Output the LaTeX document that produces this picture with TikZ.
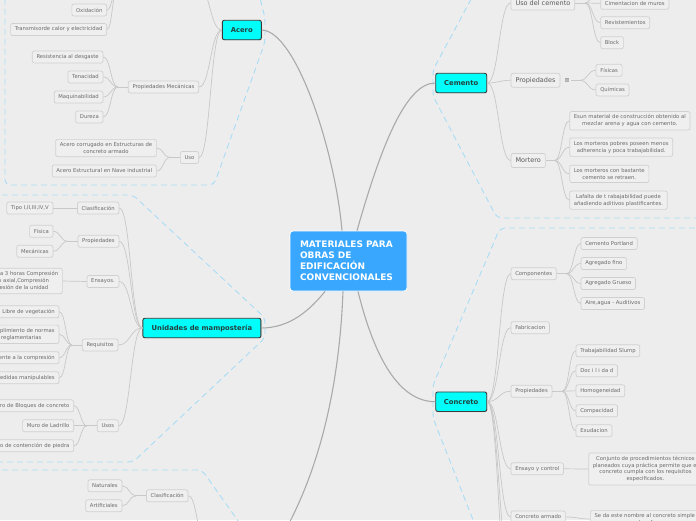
\documentclass[tikz,border=0pt]{standalone}
\usepackage{fontspec}
\setmainfont{DejaVu Sans}
\usetikzlibrary{calc,shadows}

\definecolor{pagegray}{HTML}{EDEDED}
\definecolor{hubblue}{HTML}{3AA7FF}
\definecolor{topiccyan}{HTML}{00FFFA}
\definecolor{topicline}{HTML}{3A3A3A}
\definecolor{topictext}{HTML}{23403F}
\definecolor{leaffill}{HTML}{EFEFEF}
\definecolor{leafline}{HTML}{D0D0D0}
\definecolor{leaftext}{HTML}{6A6A6A}
\definecolor{midtext}{HTML}{5A5A5A}
\definecolor{trunkgray}{HTML}{AAAAAA}
\definecolor{twiggray}{HTML}{C8C8C8}
\definecolor{fenceblue}{HTML}{A9DCF5}

\newcommand{\leaffont}{\fontsize{5.3}{6.8}\selectfont}
\newcommand{\midfont}{\fontsize{6.5}{8}\selectfont}
\newcommand{\topicfont}{\fontsize{6.8}{8}\selectfont\bfseries}
\newcommand{\hubfont}{\fontsize{9}{11}\selectfont\bfseries}

\begin{document}
\begin{tikzpicture}[
  x=1pt, y=-1pt,
  hub/.style={draw=white, line width=0.8pt, fill=hubblue, rounded corners=3pt,
    text=white, font=\hubfont, align=left, text width=97pt, inner xsep=10pt,
    minimum width=117pt, minimum height=60pt},
  topic/.style={draw=topicline, line width=0.9pt, fill=topiccyan, rounded corners=2pt,
    text=topictext, font=\topicfont, minimum height=19.5pt, inner xsep=4pt,
    drop shadow={shadow xshift=0.7pt, shadow yshift=-0.7pt, opacity=0.3}},
  leaf/.style={draw=leafline, line width=0.7pt, fill=leaffill, rounded corners=2pt,
    text=leaftext, font=\leaffont, align=center, minimum height=12pt,
    inner xsep=4.2pt, inner ysep=3.2pt},
  midleaf/.style={leaf, font=\midfont, text=midtext, minimum height=14pt, inner xsep=4.5pt},
  trunk/.style={draw=trunkgray, line width=1.1pt},
  twig/.style={draw=twiggray, line width=0.7pt},
  fence/.style={draw=fenceblue, line width=0.9pt, dash pattern=on 6pt off 4pt,
    rounded corners=5pt},
  elbow/.style={to path={let \p1=(\tikztostart), \p2=(\tikztotarget) in
    .. controls ({(\x1+\x2)/2},\y1) and ({(\x1+\x2)/2},\y2) .. (\tikztotarget)}},
]
  \useasboundingbox (0,0) rectangle (696,520);
  \clip (0,0) rectangle (696,520);
  \fill[pagegray] (0,0) rectangle (696,520);

  % boundaries
  \draw[fence] (258,-10) -- (265,18) -- (265,42) -- (214,185) -- (5,185) -- (5,-10);
  \draw[fence] (-8,195) -- (133,195) -- (265,318) -- (265,338) -- (133,462) -- (-8,462);
  \draw[fence] (-8,470) -- (202,470) -- (246,532);
  \draw[fence] (476,-10) -- (433,70) -- (433,96) -- (497,218) -- (705,218);
  \draw[fence] (705,228) -- (500,228) -- (433,385) -- (433,418) -- (477,530);

  % centre and main topics
  \node[hub] (hub) at (348.5,261) {MATERIALES PARA\\OBRAS DE\\EDIFICACIÓN\\CONVENCIONALES};
  \node[topic, minimum width=39pt] (acero) at (241.8,30) {Acero};
  \node[topic, minimum width=118pt] (unid) at (201.9,328) {Unidades de mampostería};
  \node[topic, minimum width=51pt] (cemento) at (461.2,83) {Cemento};
  \node[topic, minimum width=51pt] (concreto) at (461.2,401.7) {Concreto};
  \coordinate (bottopic) at (275,548);
  \coordinate (botwest) at (206,542);

  \draw[trunk] (acero.east) .. controls (296,31) and (335,150) .. ([xshift=-6.5pt]hub.north);
  \draw[trunk] (cemento.west) .. controls (405,83) and (380,150) .. ([xshift=8.5pt]hub.north);
  \draw[trunk] (unid.east) .. controls (290,328) and (310,310) .. ([xshift=-23.5pt]hub.south);
  \draw[trunk] ([xshift=-5.5pt]hub.south) .. controls (338,420) and (305,500) .. (bottopic);
  \draw[trunk] ([xshift=9.5pt]hub.south) .. controls (375,360) and (400,401.7) .. (concreto.west);

  % Acero
  \coordinate (fiswest) at (126,-14);
  \coordinate (fiseast) at (198,-14);
  \node[leaf, anchor=east] (oxid) at (107,10) {Oxidación};
  \node[leaf, anchor=east] (calor) at (107,29.5) {Transmisorde calor y electricidad};
  \node[leaf, anchor=east] (mecan) at (199,87) {Propiedades Mecánicas};
  \node[leaf, anchor=east] (desgaste) at (103.3,57) {Resistencia al desgaste};
  \node[leaf, anchor=east] (tenac) at (103.3,77) {Tenacidad};
  \node[leaf, anchor=east] (maquin) at (103.3,97) {Maquinabilidad};
  \node[leaf, anchor=east] (dureza) at (103.3,117) {Dureza};
  \node[leaf, anchor=east] (usoacero) at (199,157.5) {Uso};
  \node[leaf, anchor=east] (corrug) at (156.7,148) {Acero corrugado en Estructuras de\\concreto armado};
  \node[leaf, anchor=east] (estruct) at (156.7,171) {Acero Estructural en Nave industrial};

  \foreach \c in {fiseast,mecan.east,usoacero.east}
    \draw[twig] (acero.west) to[elbow] (\c);
  \draw[twig] (fiswest) -- ++(-8,0) coordinate (fisjoin);
  \foreach \c in {oxid,calor}
    \draw[twig] (fisjoin) to[elbow] (\c.east);
  \draw[twig] (mecan.west) -- ++(-10,0) coordinate (mecanjoin);
  \foreach \c in {desgaste,tenac,maquin,dureza}
    \draw[twig] (mecanjoin) to[elbow] (\c.east);
  \draw[twig] (usoacero.west) -- ++(-10,0) coordinate (usoajoin);
  \foreach \c in {corrug,estruct}
    \draw[twig] (usoajoin) to[elbow] (\c.east);

  % Unidades de mamposteria
  \node[leaf, anchor=east] (clasif) at (119.3,208) {Clasificación};
  \node[leaf, anchor=east] (tipos) at (53.3,208) {Tipo I,II,III,IV,V};
  \node[leaf, anchor=east] (propu) at (119.3,241.3) {Propiedades};
  \node[leaf, anchor=east] (fisica) at (53.3,231.3) {Física};
  \node[leaf, anchor=east] (mecanica) at (53.3,251.2) {Mecánicas};
  \node[leaf, anchor=east] (ensayos) at (119.3,281.5) {Ensayos.};
  \node[leaf, anchor=east] (pruebas) at (62.7,281) {Absorción a 3 horas Compresión\\Tensión axial,Compresión\\Compresión de la unidad};
  \node[leaf, anchor=east] (requis) at (118.3,345) {Requisitos};
  \node[leaf, anchor=east] (vegeta) at (59.3,311.7) {Libre de vegetación};
  \node[leaf, anchor=east] (normas) at (59.3,334.3) {Cumplimiento de normas\\reglamentarias};
  \node[leaf, anchor=east] (resist) at (59.3,357.7) {Resistente a la compresión};
  \node[leaf, anchor=east] (medidas) at (59.3,377.8) {Medidas manipulables};
  \node[leaf, anchor=east] (usos) at (118.7,425.8) {Usos};
  \node[leaf, anchor=east] (bloques) at (74,405.8) {Muro de Bloques de concreto};
  \node[leaf, anchor=east] (ladrillo) at (74,425.8) {Muro de Ladrillo};
  \node[leaf, anchor=east] (piedra) at (74,445.8) {Muro de contención de piedra};

  \foreach \c in {clasif,propu,ensayos,requis,usos}
    \draw[twig] (unid.west) to[elbow] (\c.east);
  \draw[twig] (clasif.west) to[elbow] (tipos.east);
  \draw[twig] (ensayos.west) to[elbow] (pruebas.east);
  \draw[twig] (propu.west) -- ++(-10,0) coordinate (propujoin);
  \foreach \c in {fisica,mecanica}
    \draw[twig] (propujoin) to[elbow] (\c.east);
  \draw[twig] (requis.west) -- ++(-10,0) coordinate (requisjoin);
  \foreach \c in {vegeta,normas,resist,medidas}
    \draw[twig] (requisjoin) to[elbow] (\c.east);
  \draw[twig] (usos.west) -- ++(-10,0) coordinate (usosjoin);
  \foreach \c in {bloques,ladrillo,piedra}
    \draw[twig] (usosjoin) to[elbow] (\c.east);

  % bottom branch
  \node[leaf, anchor=east] (clasb) at (188.3,495.8) {Clasificación};
  \node[leaf, anchor=east] (natur) at (122.3,485.8) {Naturales};
  \node[leaf, anchor=east] (artif) at (122.3,505.8) {Artificiales};
  \draw[twig] (botwest) to[elbow] (clasb.east);
  \draw[twig] (clasb.west) -- ++(-10,0) coordinate (clasbjoin);
  \foreach \c in {natur,artif}
    \draw[twig] (clasbjoin) to[elbow] (\c.east);

  % Cemento
  \node[midleaf, anchor=west] (usocem) at (510.7,3) {Uso del cemento};
  \node[midleaf, anchor=west] (propcem) at (510.7,80.3) {Propiedades};
  \node[font=\midfont, text=midtext, anchor=west, inner sep=1pt] (propico) at ([xshift=3pt]propcem.east) {≡};
  \node[midleaf, anchor=west] (mortero) at (510.7,160.5) {Mortero};
  \coordinate (usoabove) at (600.3,-17);
  \node[leaf, anchor=west] (cimient) at (600.3,3.3) {Cimentacion de muros};
  \node[leaf, anchor=west] (revist) at (600.3,22.7) {Revistemientos};
  \node[leaf, anchor=west] (block) at (600.3,42.7) {Block};
  \node[leaf, anchor=west] (fisicas) at (595.7,70.3) {Físicas};
  \node[leaf, anchor=west] (quimicas) at (595.7,90) {Químicas};
  \node[leaf, anchor=west] (esun) at (569.3,120.8) {Esun material de construcción obtenido al\\mezclar arena y agua con cemento.};
  \node[leaf, anchor=west] (pobres) at (569.3,147.2) {Los morteros pobres poseen menos\\adherencia y poca trabajabilidad.};
  \node[leaf, anchor=west] (bastante) at (569.3,173.8) {Los morteros con bastante\\cemento se retraen.};
  \node[leaf, anchor=west] (lafalta) at (569.3,200.2) {Lafalta de t rabajabilidad puede\\añadiendo aditivos plastificantes.};

  \foreach \c in {usocem,propcem,mortero}
    \draw[twig] (cemento.east) to[elbow] (\c.west);
  \draw[twig] (usocem.east) -- ++(10,0) coordinate (usocjoin);
  \foreach \c in {usoabove,cimient.west,revist.west,block.west}
    \draw[twig] (usocjoin) to[elbow] (\c);
  \draw[twig] (propico.east) -- ++(9,0) coordinate (propcjoin);
  \foreach \c in {fisicas,quimicas}
    \draw[twig] (propcjoin) to[elbow] (\c.west);
  \draw[twig] (mortero.east) -- ++(9,0) coordinate (mortjoin);
  \foreach \c in {esun,pobres,bastante,lafalta}
    \draw[twig] (mortjoin) to[elbow] (\c.west);

  % Concreto
  \node[leaf, anchor=west] (compon) at (510.7,273.7) {Componentes};
  \node[leaf, anchor=west] (fabric) at (510.7,327.7) {Fabricacion};
  \node[leaf, anchor=west] (propcon) at (510.7,391.2) {Propiedades};
  \node[leaf, anchor=west] (ensayo) at (510.7,468.8) {Ensayo y control};
  \node[leaf, anchor=west] (armado) at (510.7,517) {Concreto armado};
  \coordinate (concbelowa) at (510.7,565);
  \coordinate (concbelowb) at (510.7,610);
  \node[leaf, anchor=west] (portland) at (580.7,243.5) {Cemento Portland};
  \node[leaf, anchor=west] (fino) at (580.7,263.5) {Agregado fino};
  \node[leaf, anchor=west] (grueso) at (580.7,283.5) {Agregado Grueso};
  \node[leaf, anchor=west] (aire) at (580.7,303.5) {Aire,agua - Auditivos};
  \node[leaf, anchor=west] (slump) at (575.7,350.8) {Trabajabilidad Slump};
  \node[leaf, anchor=west] (docil) at (575.7,370.8) {Doc i l i da d};
  \node[leaf, anchor=west] (homog) at (575.7,390.8) {Homogeneidad};
  \node[leaf, anchor=west] (compac) at (575.7,410.8) {Compacidad};
  \node[leaf, anchor=west] (exud) at (575.7,430.8) {Exudacion};
  \node[leaf, anchor=west] (procedim) at (588.3,469) {Conjunto de procedimientos técnicos\\planeados cuya práctica permite que el\\concreto cumpla con los requisitos\\especificados.};
  \node[leaf, anchor=west] (refuerzo) at (590,519) {Se da este nombre al concreto simple\\acero de refuerzo.};

  \foreach \c in {compon.west,fabric.west,propcon.west,ensayo.west,armado.west,concbelowa,concbelowb}
    \draw[twig] (concreto.east) to[elbow] (\c);
  \draw[twig] (compon.east) -- ++(10,0) coordinate (componjoin);
  \foreach \c in {portland,fino,grueso,aire}
    \draw[twig] (componjoin) to[elbow] (\c.west);
  \draw[twig] (propcon.east) -- ++(10,0) coordinate (propconjoin);
  \foreach \c in {slump,docil,homog,compac,exud}
    \draw[twig] (propconjoin) to[elbow] (\c.west);
  \draw[twig] (ensayo.east) to[elbow] (procedim.west);
  \draw[twig] (armado.east) to[elbow] (refuerzo.west);
\end{tikzpicture}
\end{document}
